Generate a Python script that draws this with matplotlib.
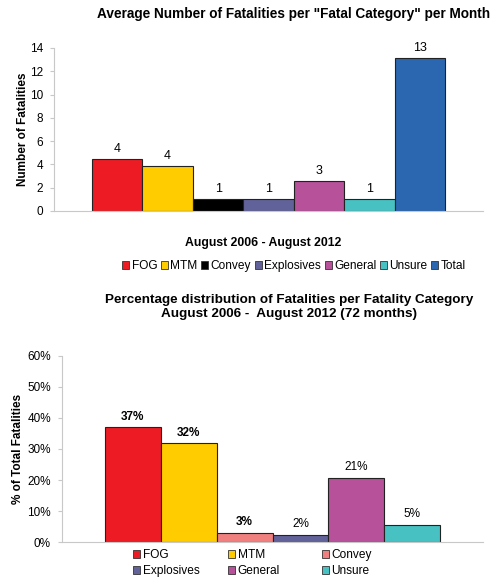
import matplotlib
matplotlib.use("Agg")
import matplotlib.pyplot as plt
from matplotlib.patches import Patch

plt.rcParams['font.family'] = ['Liberation Sans', 'DejaVu Sans']

# top chart: average per month
cats_top = ["FOG", "MTM", "Convey", "Explosives", "General", "Unsure", "Total"]
avg_vals = [4.47, 3.9, 1.0, 1.0, 2.55, 1.0, 13.1]
avg_labels = ["4", "4", "1", "1", "3", "1", "13"]
colors_top = ["#ED1C24", "#FFCC00", "#000000", "#62629A", "#B6519A", "#47C1C2", "#2B66B1"]

# bottom chart: percentage distribution
cats_bot = ["FOG", "MTM", "Convey", "Explosives", "General", "Unsure"]
pct_vals = [37.0, 31.8, 3.1, 2.4, 20.8, 5.6]
pct_labels = ["37%", "32%", "3%", "2%", "21%", "5%"]
pct_bold = [True, True, True, False, False, False]
colors_bot = ["#ED1C24", "#FFCC00", "#F08080", "#62629A", "#B6519A", "#47C1C2"]

W, H = 493, 578
fig = plt.figure(figsize=(W / 100, H / 100), dpi=100)


def style_axes(ax):
    for s in ["top", "right"]:
        ax.spines[s].set_visible(False)
    ax.spines["left"].set_color("#C8C8C8")
    ax.spines["bottom"].set_color("#C8C8C8")
    ax.tick_params(axis="y", colors="#C8C8C8", labelcolor="black", labelsize=8.5, length=3, pad=5)
    ax.tick_params(axis="x", length=0, labelbottom=False)


# ---- top chart ----
ax1 = fig.add_axes([54 / W, 1 - 211 / H, 429 / W, 163 / H])
x1 = range(len(cats_top))
ax1.bar(x1, avg_vals, width=1.0, color=colors_top, edgecolor="#222222", linewidth=0.8)
for i, (v, lab) in enumerate(zip(avg_vals, avg_labels)):
    ax1.text(i, v + 0.35, lab, ha="center", va="bottom", fontsize=9)
ax1.set_xlim(-1.254, 7.254)
ax1.set_ylim(0, 14)
ax1.set_yticks(range(0, 15, 2))
style_axes(ax1)
ax1.set_ylabel("Number of Fatalities", fontsize=8.5, fontweight="bold", labelpad=0.5)
fig.text(294 / W, 1 - 14 / H, 'Average Number of Fatalities per "Fatal Category" per Month',
         ha="center", va="center", fontsize=9.8, fontweight="bold")
fig.text(263 / W, 1 - 243 / H, "August 2006 - August 2012", ha="center", va="center",
         fontsize=8.8, fontweight="bold")
h1 = [Patch(facecolor=c, edgecolor="#333333", linewidth=0.6) for c in colors_top]
fig.legend(h1, cats_top, loc="center", bbox_to_anchor=(294 / W, 1 - 266 / H), ncol=7,
           frameon=False, fontsize=8.6, handlelength=0.6, handleheight=0.6,
           handletextpad=0.2, columnspacing=0.3, borderpad=0)

# ---- bottom chart ----
ax2 = fig.add_axes([62 / W, 1 - 542.3 / H, 421 / W, 186.6 / H])
x2 = range(len(cats_bot))
ax2.bar(x2, pct_vals, width=1.0, color=colors_bot, edgecolor="#222222", linewidth=0.8)
for i, (v, lab, b) in enumerate(zip(pct_vals, pct_labels, pct_bold)):
    ax2.text(i, v + 1.5, lab, ha="center", va="bottom", fontsize=8.5,
             fontweight="bold" if b else "normal")
ax2.set_xlim(-1.27, 6.27)
ax2.set_ylim(0, 60)
ax2.set_yticks(range(0, 61, 10))
ax2.set_yticklabels([f"{t}%" for t in range(0, 61, 10)])
style_axes(ax2)
ax2.set_ylabel("% of Total Fatalities", fontsize=8.5, fontweight="bold", labelpad=2)
fig.text(289 / W, 1 - 307 / H,
         "Percentage distribution of Fatalities per Fatality Category\nAugust 2006 -  August 2012 (72 months)",
         ha="center", va="center", fontsize=9.7, fontweight="bold", linespacing=1.25)

# bottom legend: one small legend per column, rows FOG/MTM/Convey then Explosives/General/Unsure
col_x = [127, 222, 316]
for c in range(3):
    idx = [c, c + 3]
    hh = [Patch(facecolor=colors_bot[i], edgecolor="#333333", linewidth=0.6) for i in idx]
    fig.legend(hh, [cats_bot[i] for i in idx], loc="upper left",
               bbox_to_anchor=(col_x[c] / W, 1 - 543.5 / H), frameon=False, fontsize=8.6,
               handlelength=0.6, handleheight=0.6, handletextpad=0.2,
               labelspacing=0.3, borderpad=0)

fig.savefig("out.png", dpi=100)
